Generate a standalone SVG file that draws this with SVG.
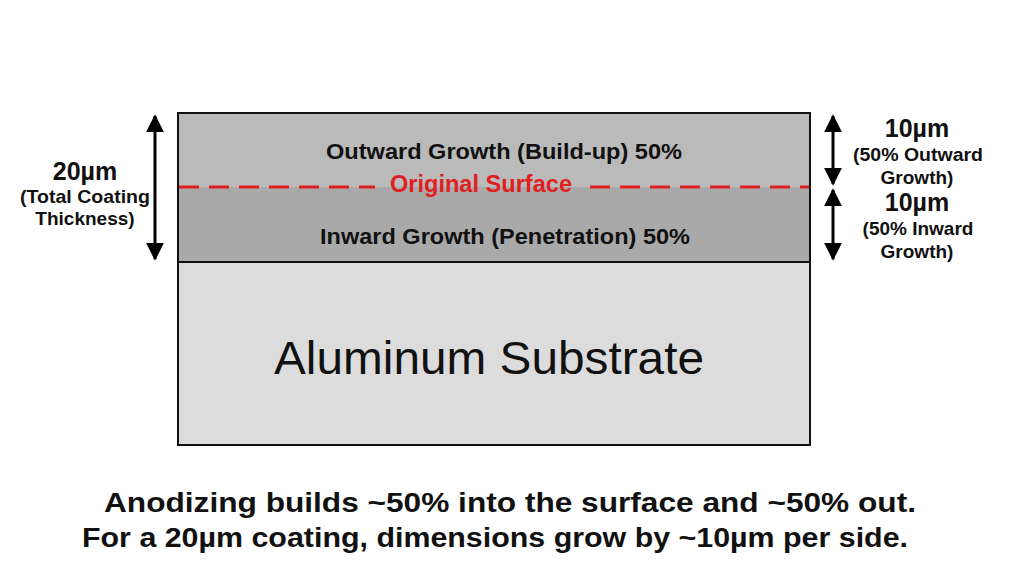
<svg xmlns="http://www.w3.org/2000/svg" width="1024" height="572" viewBox="0 0 1024 572">
<defs>
<style>
.t{font-family:"Liberation Sans",Arial,sans-serif;font-weight:bold;fill:#111;text-anchor:middle}
.dim{stroke:#000;stroke-width:3;fill:none}
</style>
<marker id="ah" viewBox="0 0 10 10" refX="9" refY="5" markerWidth="6" markerHeight="6" orient="auto-start-reverse" markerUnits="strokeWidth">
<path d="M0,0 L10,5 L0,10 z" fill="#000"/>
</marker>
</defs>
<rect width="1024" height="572" fill="#ffffff"/>
<g id="substrate">
<rect x="178" y="262" width="632" height="183" fill="#dcdcdc" stroke="#111" stroke-width="2"/>
<text x="489" y="374" font-family="'Liberation Sans',Arial,sans-serif" font-size="47" text-anchor="middle" fill="#111" textLength="430" lengthAdjust="spacingAndGlyphs">Aluminum Substrate</text>
</g>
<g id="inward">
<rect x="178" y="187" width="632" height="75" fill="#a9a9a9"/>
<text class="t" x="505" y="244" font-size="22" textLength="370" lengthAdjust="spacingAndGlyphs">Inward Growth (Penetration) 50%</text>
</g>
<g id="outward">
<rect x="178" y="113" width="632" height="74" fill="#bababa"/>
<text class="t" x="504" y="159" font-size="22" textLength="356" lengthAdjust="spacingAndGlyphs">Outward Growth (Build-up) 50%</text>
</g>
<rect x="178" y="113" width="632" height="149" fill="none" stroke="#111" stroke-width="2"/>
<g id="original-surface">
<line x1="179" y1="187" x2="375" y2="187" stroke="#e02020" stroke-width="3" stroke-dasharray="20,10"/>
<line x1="590" y1="187" x2="809" y2="187" stroke="#e02020" stroke-width="3" stroke-dasharray="20,10"/>
<text class="t" x="481" y="192" font-size="23" textLength="182" lengthAdjust="spacingAndGlyphs" style="fill:#e02020">Original Surface</text>
</g>
<g id="connectors">
<line class="dim" x1="155" y1="116" x2="155" y2="259" marker-start="url(#ah)" marker-end="url(#ah)"/>
<line class="dim" x1="833" y1="116" x2="833" y2="184" marker-start="url(#ah)" marker-end="url(#ah)"/>
<line class="dim" x1="833" y1="190" x2="833" y2="259" marker-start="url(#ah)" marker-end="url(#ah)"/>
</g>
<g id="label-total">
<text class="t" x="85" y="180" font-size="25">20µm</text>
<text class="t" x="85" y="203" font-size="19" textLength="130" lengthAdjust="spacingAndGlyphs">(Total Coating</text>
<text class="t" x="85" y="225" font-size="19">Thickness)</text>
</g>
<g id="label-outward">
<text class="t" x="917" y="137" font-size="25">10µm</text>
<text class="t" x="918" y="161" font-size="19" textLength="130" lengthAdjust="spacingAndGlyphs">(50% Outward</text>
<text class="t" x="917" y="184" font-size="19">Growth)</text>
</g>
<g id="label-inward">
<text class="t" x="917" y="211" font-size="25">10µm</text>
<text class="t" x="918" y="235" font-size="19">(50% Inward</text>
<text class="t" x="917" y="258" font-size="19">Growth)</text>
</g>
<g id="caption">
<text class="t" x="510" y="512" font-size="28" textLength="812" lengthAdjust="spacingAndGlyphs">Anodizing builds ~50% into the surface and ~50% out.</text>
<text class="t" x="495" y="547" font-size="28" textLength="826" lengthAdjust="spacingAndGlyphs">For a 20µm coating, dimensions grow by ~10µm per side.</text>
</g>
</svg>
